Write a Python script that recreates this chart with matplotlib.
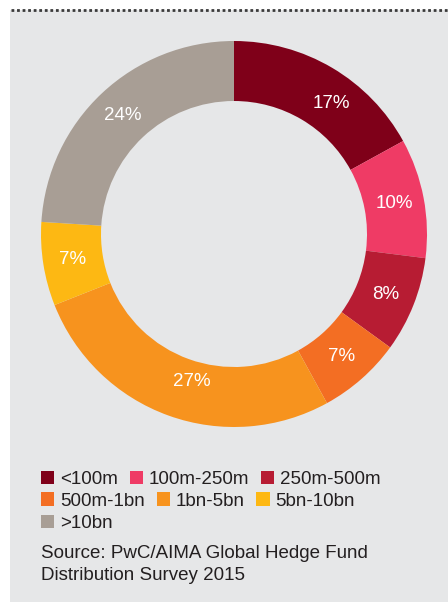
import matplotlib
matplotlib.use("Agg")
import numpy as np
import matplotlib.pyplot as plt
from matplotlib.patches import Rectangle
from matplotlib.lines import Line2D

categories = ["<100m", "100m-250m", "250m-500m", "500m-1bn", "1bn-5bn", "5bn-10bn", ">10bn"]
values = [17, 10, 8, 7, 27, 7, 24]
labels = ["17%", "10%", "8%", "7%", "27%", "7%", "24%"]
colors = ["#7f0019", "#ef3b65", "#b71c33", "#f36e23", "#f7931e", "#fdb813", "#a89e95"]
legend_rows = [[0, 1, 2], [3, 4, 5], [6]]
source_lines = ["Source: PwC/AIMA Global Hedge Fund", "Distribution Survey 2015"]

W, H = 448, 602
fig = plt.figure(figsize=(W / 100, H / 100), dpi=100)
fig.patch.set_facecolor("white")
FONT = "Liberation Sans"
fs = 13.5

# grey panel
fig.patches.append(Rectangle((10 / W, 0), (W - 10) / W, (H - 10) / H,
                             transform=fig.transFigure, facecolor="#e6e7e8",
                             edgecolor="none", zorder=-5))
# dotted top line
fig.lines.append(Line2D([11 / W, 1], [1 - 9.5 / H, 1 - 9.5 / H], transform=fig.transFigure,
                        color="#3a3a3a", linewidth=2.0, linestyle=(0, (1.0, 1.0)),
                        solid_capstyle="butt", zorder=-4))

# donut
cx, cy, R = 234, 234, 193
ax = fig.add_axes([(cx - R) / W, 1 - (cy + R) / H, 2 * R / W, 2 * R / H], zorder=2)
ax.set_facecolor("none")
ax.patch.set_alpha(0)
wedges, texts = ax.pie(values, colors=colors, startangle=90, counterclock=False,
                       wedgeprops=dict(width=60 / R, edgecolor="none"),
                       labels=labels, labeldistance=163 / R,
                       textprops=dict(color="white", fontsize=fs, family=FONT,
                                      ha="center", va="center"))
# small label placement nudges (angle offset in degrees clockwise, radius factor)
nudges = {0: (6.0, 1.0), 4: (-4.0, 0.94)}
for i, (w, t) in enumerate(zip(wedges, texts)):
    if i in nudges:
        dang, rf = nudges[i]
        mid = np.deg2rad((w.theta1 + w.theta2) / 2 - dang)
        r = 163 / R * rf
        t.set_position((r * np.cos(mid), r * np.sin(mid)))
ax.set_xlim(-1, 1)
ax.set_ylim(-1, 1)
ax.set_aspect("equal")
ax.axis("off")

# legend (flow layout)
fig.canvas.draw()
renderer = fig.canvas.get_renderer()
row_base = [483.5, 505.5, 527.5]
sq = 13.3
for r, row in enumerate(legend_rows):
    x = 41
    yb = row_base[r]
    for i in row:
        fig.patches.append(Rectangle((x / W, 1 - (yb + 0.3) / H), sq / W, sq / H,
                                     transform=fig.transFigure, facecolor=colors[i],
                                     edgecolor="none", zorder=3))
        t = fig.text((x + sq + 6) / W, 1 - yb / H, categories[i], fontsize=fs,
                     family=FONT, color="#231f20", ha="left", va="baseline", zorder=3)
        bb = t.get_window_extent(renderer)
        x = x + sq + 6 + bb.width + 11.5

for k, line in enumerate(source_lines):
    fig.text(41 / W, 1 - (558.5 + 22 * k) / H, line, fontsize=fs, family=FONT,
             color="#231f20", ha="left", va="baseline", zorder=3)

fig.savefig("out.png", dpi=100, facecolor=fig.get_facecolor())
